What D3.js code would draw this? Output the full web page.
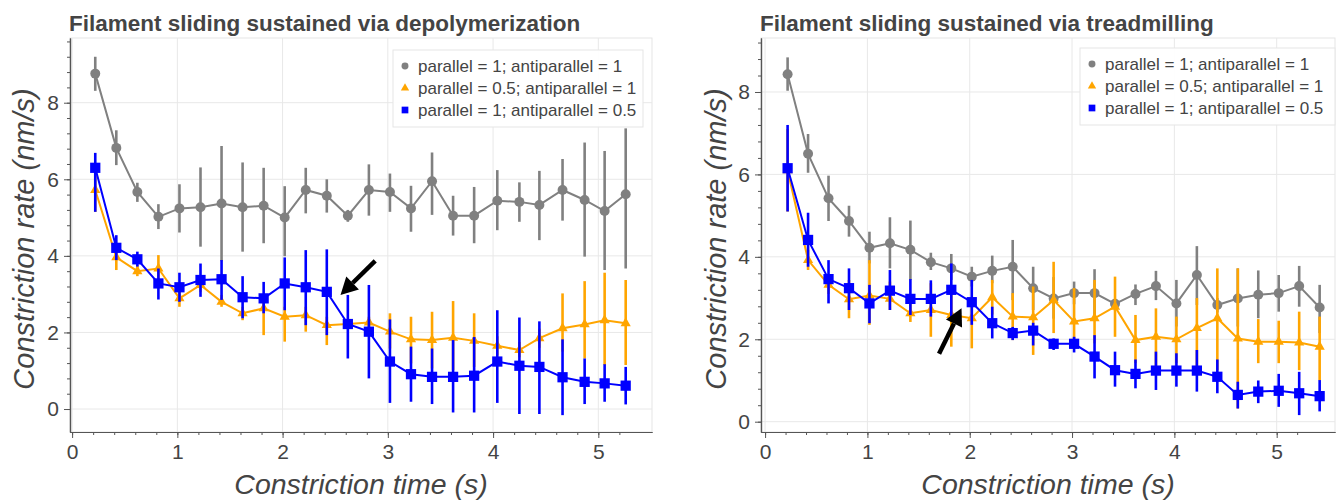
<!DOCTYPE html>
<html>
<head>
<meta charset="utf-8">
<script src="https://cdn.jsdelivr.net/npm/d3@7"></script>
<style>
  body { margin: 0; background: #fff; }
  text { font-family: "Liberation Sans", Arial, Helvetica, sans-serif; }
</style>
</head>
<body>
<svg id="chart" width="1338" height="501"></svg>
<script>
// ---------------- data ----------------
const legendLabels = [
  "parallel = 1; antiparallel = 1",
  "parallel = 0.5; antiparallel = 1",
  "parallel = 1; antiparallel = 0.5"
];
const xTicks = [0, 1, 2, 3, 4, 5];
const yTicks = [0, 2, 4, 6, 8];

// left panel: depolymerization
const timesL = [0.22, 0.42, 0.62, 0.82, 1.02, 1.22, 1.42, 1.62, 1.82, 2.02, 2.22, 2.42, 2.62,
  2.82, 3.02, 3.22, 3.42, 3.62, 3.82, 4.04, 4.25, 4.44, 4.66, 4.87, 5.06, 5.26];
const grayL   = [8.76, 6.82, 5.67, 5.02, 5.24, 5.27, 5.37, 5.27, 5.31, 5.00, 5.72, 5.57, 5.05,
  5.72, 5.67, 5.24, 5.95, 5.05, 5.05, 5.44, 5.41, 5.33, 5.72, 5.46, 5.17, 5.61];
const grayLlo = [8.31, 6.37, 5.41, 4.70, 4.61, 4.24, 3.86, 4.11, 4.33, 3.99, 5.11, 5.13, 4.89,
  5.05, 5.15, 4.63, 5.07, 4.53, 4.33, 4.67, 4.89, 4.41, 4.92, 3.98, 3.63, 3.67];
const grayLhi = [9.20, 7.28, 5.91, 5.35, 5.87, 6.31, 6.87, 6.44, 6.30, 5.82, 6.30, 6.00, 5.20,
  6.39, 6.15, 5.83, 6.70, 5.57, 5.80, 6.24, 5.92, 6.22, 6.53, 6.96, 6.74, 7.33];
const orangeL   = [5.72, 3.96, 3.60, 3.67, 2.89, 3.24, 2.80, 2.50, 2.63, 2.41, 2.45, 2.19, 2.22,
  2.26, 2.02, 1.82, 1.80, 1.86, 1.78, 1.65, 1.54, 1.85, 2.11, 2.21, 2.32, 2.24];
const orangeLlo = [5.15, 3.63, 3.47, 3.37, 2.67, 3.06, 2.67, 2.32, 1.93, 1.76, 2.02, 1.67, 2.10,
  2.12, 1.58, 1.19, 1.06, 1.02, 1.10, 1.40, 1.35, 1.60, 1.50, 1.32, 1.15, 1.15];
const orangeLhi = [6.20, 4.15, 3.76, 4.02, 3.15, 3.50, 2.98, 2.67, 2.93, 2.67, 2.67, 2.41, 2.35,
  2.41, 2.50, 2.41, 2.54, 2.82, 2.50, 1.90, 1.75, 2.10, 3.02, 3.34, 3.56, 3.37];
const blueL   = [6.30, 4.21, 3.91, 3.28, 3.18, 3.37, 3.39, 2.92, 2.89, 3.28, 3.18, 3.06, 2.22,
  2.02, 1.24, 0.91, 0.84, 0.84, 0.87, 1.24, 1.13, 1.10, 0.83, 0.71, 0.67, 0.61];
const blueLlo = [5.15, 3.89, 3.72, 2.86, 2.80, 2.93, 2.85, 2.37, 2.50, 2.58, 2.19, 1.93, 1.32,
  0.80, 0.16, 0.19, 0.13, -0.09, -0.09, 0.16, -0.13, -0.13, -0.16, 0.13, 0.19, 0.12];
const blueLhi = [6.69, 4.54, 4.11, 3.67, 3.56, 3.80, 3.89, 3.47, 3.32, 3.96, 4.15, 4.17, 2.98,
  3.24, 2.34, 1.63, 1.58, 1.80, 1.88, 2.58, 2.39, 2.29, 1.82, 1.32, 1.17, 1.10];
const arrowL = [[2.88, 3.87], [2.55, 2.98]]; // tail, tip

// right panel: treadmilling
const timesR = [0.22, 0.42, 0.62, 0.82, 1.02, 1.22, 1.42, 1.62, 1.82, 2.02, 2.22, 2.42, 2.62,
  2.82, 3.02, 3.22, 3.42, 3.62, 3.82, 4.02, 4.22, 4.42, 4.62, 4.82, 5.02, 5.22, 5.42];
const grayR   = [8.43, 6.50, 5.42, 4.87, 4.22, 4.33, 4.17, 3.87, 3.72, 3.52, 3.66, 3.76, 3.24,
  2.99, 3.12, 3.12, 2.86, 3.10, 3.29, 2.87, 3.56, 2.83, 2.99, 3.08, 3.12, 3.29, 2.77];
const grayRlo = [8.03, 6.04, 4.87, 4.49, 3.84, 3.72, 3.44, 3.68, 3.44, 3.28, 3.36, 2.95, 2.71,
  2.50, 2.85, 2.55, 2.70, 2.83, 2.95, 2.31, 2.83, 2.65, 2.31, 2.51, 2.67, 2.79, 2.15];
const grayRhi = [8.84, 6.98, 5.97, 5.24, 4.61, 4.96, 4.88, 4.10, 4.07, 3.76, 4.03, 4.41, 3.76,
  3.51, 3.40, 3.70, 2.98, 3.33, 3.66, 3.44, 4.26, 3.00, 3.72, 3.67, 3.56, 3.78, 3.32];
const orangeR   = [6.10, 3.92, 3.32, 2.97, 3.06, 2.98, 2.63, 2.71, 2.59, 2.51, 3.02, 2.55, 2.53,
  2.95, 2.43, 2.51, 2.79, 1.98, 2.06, 2.00, 2.27, 2.51, 2.02, 1.94, 1.94, 1.92, 1.82];
const orangeRlo = [5.10, 3.68, 3.10, 2.51, 2.35, 2.71, 2.42, 2.06, 1.82, 1.78, 2.60, 1.98, 1.62,
  2.15, 1.90, 1.90, 2.06, 1.42, 1.33, 1.42, 1.33, 1.25, 0.32, 1.42, 1.42, 1.25, 1.00];
const orangeRhi = [7.10, 4.17, 3.56, 3.44, 3.92, 3.40, 2.91, 3.36, 3.24, 2.95, 3.44, 3.12, 3.28,
  3.88, 3.24, 3.44, 3.52, 2.59, 2.75, 2.55, 3.00, 3.72, 3.72, 2.49, 2.45, 2.67, 2.55];
const blueR   = [6.15, 4.41, 3.46, 3.24, 2.87, 3.18, 2.98, 2.98, 3.20, 2.90, 2.39, 2.15, 2.21,
  1.89, 1.89, 1.58, 1.25, 1.16, 1.24, 1.24, 1.24, 1.09, 0.65, 0.73, 0.75, 0.69, 0.62];
const blueRlo = [5.10, 3.76, 2.87, 2.71, 2.39, 2.71, 2.59, 2.55, 2.55, 2.35, 2.02, 1.98, 1.85,
  1.74, 1.68, 1.05, 0.85, 0.81, 0.77, 0.85, 0.73, 0.69, 0.32, 0.45, 0.36, 0.16, 0.25];
const blueRhi = [7.20, 5.07, 3.92, 3.72, 3.32, 3.68, 3.46, 3.43, 3.84, 3.44, 2.79, 2.30, 2.40,
  2.02, 2.06, 2.10, 1.70, 1.51, 1.70, 1.66, 1.74, 1.51, 0.97, 1.00, 1.16, 1.21, 1.01];
const arrowR = [[1.70, 1.65], [1.92, 2.75]];

const colors = ["#808080", "#ffa500", "#0000ff"];
const markers = [d3.symbolCircle, d3.symbolTriangle, d3.symbolSquare];
const markerSize = [78, 45, 105];
const legendSize = [38, 30, 45];

const svg = d3.select("#chart");

function drawPanel(p) {
  const x = d3.scaleLinear().domain(p.xDomain).range([p.left, p.right]);
  const y = d3.scaleLinear().domain(p.yDomain).range([p.bottom, p.top]);
  const g = svg.append("g");

  // ---------------- grid + frame ----------------
  g.append("rect")
    .attr("x", p.left).attr("y", p.top)
    .attr("width", p.right - p.left).attr("height", p.bottom - p.top)
    .attr("fill", "none").attr("stroke", "#e5e5e5");
  g.selectAll(".vgrid").data(xTicks).join("line")
    .attr("x1", d => x(d)).attr("x2", d => x(d))
    .attr("y1", p.top).attr("y2", p.bottom)
    .attr("stroke", "#e8e8e8");
  g.selectAll(".hgrid").data(yTicks).join("line")
    .attr("y1", d => y(d)).attr("y2", d => y(d))
    .attr("x1", p.left).attr("x2", p.right)
    .attr("stroke", "#e8e8e8");

  // ---------------- axes ----------------
  const minorX = d3.range(0, 27).map(i => i * 0.2).filter(v => v < p.xDomain[1]);
  const minorY = d3.range(0, 25).map(i => i * 0.4).filter(v => v < p.yDomain[1]);

  const styleAxis = sel => {
    sel.selectAll("path.domain").attr("stroke", "#555").attr("stroke-width", 1.2);
    sel.selectAll(".tick line").attr("stroke", "#555");
    sel.selectAll("text").attr("fill", "#444").style("font-size", "21px")
      .style("font-family", '"Liberation Sans", Arial, sans-serif');
  };

  g.append("g").attr("transform", `translate(0,${p.bottom})`)
    .call(d3.axisBottom(x).tickValues(minorX).tickSize(3).tickFormat("").tickSizeOuter(0))
    .call(styleAxis);
  g.append("g").attr("transform", `translate(0,${p.bottom})`)
    .call(d3.axisBottom(x).tickValues(xTicks).tickFormat(d3.format("d"))
      .tickSize(6).tickPadding(6).tickSizeOuter(0))
    .call(styleAxis);
  g.append("g").attr("transform", `translate(${p.left},0)`)
    .call(d3.axisLeft(y).tickValues(minorY).tickSize(3).tickFormat("").tickSizeOuter(0))
    .call(styleAxis);
  g.append("g").attr("transform", `translate(${p.left},0)`)
    .call(d3.axisLeft(y).tickValues(yTicks).tickFormat(d3.format("d"))
      .tickSize(6).tickPadding(5).tickSizeOuter(0))
    .call(styleAxis);

  // ---------------- labels ----------------
  g.append("text")
    .attr("x", p.left - 1).attr("y", 31)
    .attr("fill", "#444").style("font-size", "22.5px").style("font-weight", "bold")
    .text(p.title);
  g.append("text")
    .attr("x", (p.left + p.right) / 2).attr("y", 494)
    .attr("text-anchor", "middle").attr("fill", "#444")
    .style("font-size", "28.5px").style("font-style", "italic")
    .text("Constriction time (s)");
  g.append("text")
    .attr("transform", `translate(${p.ylabelX},${(p.top + p.bottom) / 2 + 4}) rotate(-90)`)
    .attr("text-anchor", "middle").attr("fill", "#444")
    .style("font-size", "29px").style("font-style", "italic")
    .text("Constriction rate (nm/s)");

  // ---------------- series ----------------
  const line = d3.line().x(d => x(d[0])).y(d => y(d[1]));
  p.series.forEach((s, k) => {
    const pts = p.times.map((t, i) => [t, s.mean[i], s.lo[i], s.hi[i]]);
    g.append("g").selectAll("line").data(pts).join("line")
      .attr("x1", d => x(d[0])).attr("x2", d => x(d[0]))
      .attr("y1", d => y(d[2])).attr("y2", d => y(d[3]))
      .attr("stroke", colors[k]).attr("stroke-width", 2.6);
    g.append("path").datum(pts)
      .attr("d", line).attr("fill", "none")
      .attr("stroke", colors[k]).attr("stroke-width", 2);
    g.append("g").selectAll("path").data(pts).join("path")
      .attr("transform", d => `translate(${x(d[0])},${y(d[1])})`)
      .attr("d", d3.symbol().type(markers[k]).size(markerSize[k]))
      .attr("fill", colors[k]);
  });

  // ---------------- arrow ----------------
  const [tail, tip] = p.arrow;
  const x1 = x(tail[0]), y1 = y(tail[1]), x2 = x(tip[0]), y2 = y(tip[1]);
  const ang = Math.atan2(y2 - y1, x2 - x1);
  const headLen = 17, headW = 9;
  const bx = x2 - headLen * Math.cos(ang), by = y2 - headLen * Math.sin(ang);
  g.append("line")
    .attr("x1", x1).attr("y1", y1).attr("x2", bx).attr("y2", by)
    .attr("stroke", "#000").attr("stroke-width", 4.5);
  g.append("path")
    .attr("d", `M${x2},${y2}L${bx + headW * Math.sin(ang)},${by - headW * Math.cos(ang)}` +
      `L${bx - headW * Math.sin(ang)},${by + headW * Math.cos(ang)}Z`)
    .attr("fill", "#000");

  // ---------------- legend ----------------
  const lg = g.append("g");
  lg.append("rect")
    .attr("x", p.legend.x).attr("y", p.legend.y)
    .attr("width", p.legend.w).attr("height", 77)
    .attr("fill", "#fff").attr("fill-opacity", 0.95)
    .attr("stroke", "#e5e5e5");
  legendLabels.forEach((lab, k) => {
    const cy = p.legend.y + 16 + k * 22;
    lg.append("path")
      .attr("transform", `translate(${p.legend.x + 12},${cy})`)
      .attr("d", d3.symbol().type(markers[k]).size(legendSize[k]))
      .attr("fill", colors[k]);
    lg.append("text")
      .attr("x", p.legend.x + 25).attr("y", cy + 6)
      .attr("fill", "#444").style("font-size", "17px")
      .text(lab);
  });
}

drawPanel({
  left: 70, right: 652, top: 38, bottom: 432,
  xDomain: [-0.02, 5.51], yDomain: [-0.6, 9.69],
  ylabelX: 34,
  title: "Filament sliding sustained via depolymerization",
  times: timesL,
  series: [
    { mean: grayL, lo: grayLlo, hi: grayLhi },
    { mean: orangeL, lo: orangeLlo, hi: orangeLhi },
    { mean: blueL, lo: blueLlo, hi: blueLhi }
  ],
  arrow: arrowL,
  legend: { x: 393, y: 50, w: 250 }
});

drawPanel({
  left: 761, right: 1335, top: 38, bottom: 432,
  xDomain: [-0.04, 5.57], yDomain: [-0.25, 9.31],
  ylabelX: 726,
  title: "Filament sliding sustained via treadmilling",
  times: timesR,
  series: [
    { mean: grayR, lo: grayRlo, hi: grayRhi },
    { mean: orangeR, lo: orangeRlo, hi: orangeRhi },
    { mean: blueR, lo: blueRlo, hi: blueRhi }
  ],
  arrow: arrowR,
  legend: { x: 1080, y: 48, w: 255 }
});
</script>
</body>
</html>
